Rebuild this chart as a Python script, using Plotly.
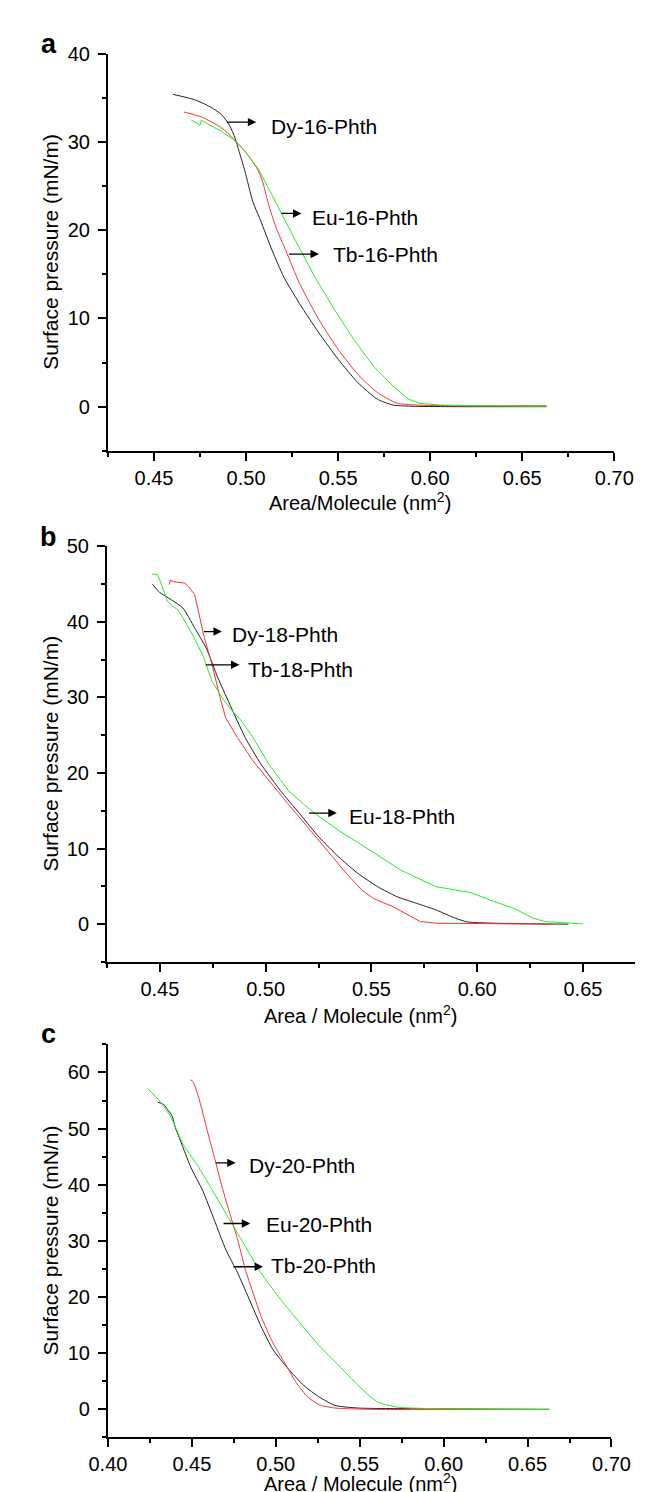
import plotly.graph_objects as go

# ---------------- Panel a (16-Phth) ----------------
a_dy_x = [0.4603, 0.4719, 0.4804, 0.4867, 0.4910, 0.4941, 0.4962, 0.4994, 0.5036, 0.5079, 0.5142, 0.5205,
          0.5290, 0.5396, 0.5501, 0.5607, 0.5713, 0.5797, 0.5920, 0.6135, 0.6632]
a_dy_y = [35.4, 34.8, 34.0, 33.1, 31.9, 30.4, 28.95, 26.7, 23.3, 21.1, 17.7, 14.7,
          11.7, 8.35, 5.36, 2.73, 0.86, 0.19, 0.04, 0.0, 0.0]

a_tb_x = [0.4662, 0.4762, 0.4867, 0.4930, 0.4994, 0.5057, 0.5089, 0.5121, 0.5163, 0.5216, 0.5290, 0.5396,
          0.5501, 0.5607, 0.5713, 0.5818, 0.5920, 0.6135, 0.6632]
a_tb_y = [33.4, 32.8, 31.6, 30.4, 28.95, 27.1, 25.6, 23.0, 20.3, 17.7, 14.0, 9.85,
          6.48, 3.67, 1.61, 0.41, 0.19, 0.11, 0.11]

a_eu_x = [0.4702, 0.4751, 0.4757, 0.4804, 0.4867, 0.4930, 0.4994, 0.5068, 0.5121, 0.5184, 0.5269, 0.5374,
          0.5480, 0.5586, 0.5692, 0.5797, 0.5882, 0.5945, 0.6050, 0.6241, 0.6632]
a_eu_y = [32.5, 31.9, 32.5, 31.9, 31.2, 30.3, 28.95, 26.9, 24.8, 22.2, 18.8, 14.7,
          11.0, 7.6, 4.6, 2.36, 0.86, 0.37, 0.19, 0.11, 0.04]

# ---------------- Panel b (18-Phth) ----------------
b_eu_x = [0.4465, 0.4498, 0.4554, 0.4609, 0.4664, 0.4719, 0.4774, 0.4830, 0.4903, 0.4977, 0.5069, 0.5161,
          0.5253, 0.5345, 0.5437, 0.5529, 0.5621, 0.5713, 0.5805, 0.5897, 0.5952, 0.6081, 0.6431]
b_eu_y = [44.96, 43.9, 42.9, 41.8, 39.2, 36.5, 32.6, 29.1, 24.7, 21.2, 17.7, 14.6,
          11.5, 8.9, 6.7, 4.96, 3.64, 2.76, 1.89, 0.79, 0.31, 0.13, 0.0]

b_dy_x = [0.4544, 0.4550, 0.4563, 0.4618, 0.4636, 0.4664, 0.4682, 0.4710, 0.4747, 0.4784, 0.4811, 0.4866,
          0.4940, 0.5014, 0.5106, 0.5198, 0.5290, 0.5382, 0.5455, 0.5510, 0.5603, 0.5676, 0.5731, 0.5805,
          0.6081, 0.6357]
b_dy_y = [44.9, 45.5, 45.3, 45.1, 44.6, 43.6, 41.4, 37.9, 34.3, 30.0, 27.3, 24.7,
          21.6, 19.0, 15.9, 12.85, 9.8, 6.7, 4.5, 3.4, 2.3, 1.23, 0.35, 0.13,
          0.04, 0.0]

b_tb_x = [0.4462, 0.4489, 0.4508, 0.4535, 0.4590, 0.4646, 0.4701, 0.4747, 0.4793, 0.4830, 0.4885, 0.4940,
          0.5014, 0.5106, 0.5216, 0.5345, 0.5492, 0.5639, 0.5805, 0.5961, 0.5970, 0.6081, 0.6173, 0.6265,
          0.6320, 0.6501]
b_tb_y = [46.3, 46.2, 44.9, 42.7, 41.4, 38.7, 35.7, 32.1, 30.0, 28.6, 26.9, 24.7,
          21.2, 17.7, 15.0, 12.4, 9.8, 7.15, 4.96, 4.3, 4.17, 2.98, 2.1, 0.79,
          0.35, 0.04]

# ---------------- Panel c (20-Phth) ----------------
c_tb_x = [0.4297, 0.4332, 0.4355, 0.4383, 0.4401, 0.4425, 0.4448, 0.4494, 0.4564, 0.4634, 0.4703, 0.4773,
          0.4842, 0.4912, 0.4982, 0.5075, 0.5167, 0.5260, 0.5353, 0.5492, 0.5840, 0.6629]
c_tb_y = [54.7, 54.3, 53.4, 52.2, 50.2, 48.4, 46.6, 43.1, 39.0, 33.7, 28.4, 24.3,
          19.6, 14.8, 10.7, 7.2, 4.24, 2.18, 0.71, 0.24, 0.12, 0.0]

c_eu_x = [0.4234, 0.4309, 0.4378, 0.4448, 0.4541, 0.4634, 0.4726, 0.4819, 0.4912, 0.5028, 0.5144, 0.5260,
          0.5376, 0.5492, 0.5608, 0.5724, 0.5956, 0.6629]
c_eu_y = [57.2, 54.9, 51.9, 47.2, 43.1, 38.4, 33.7, 29.0, 24.3, 19.6, 15.4, 11.3,
          7.8, 4.24, 1.3, 0.41, 0.12, 0.0]

c_dy_x = [0.4490, 0.4506, 0.4541, 0.4587, 0.4634, 0.4680, 0.4726, 0.4773, 0.4819, 0.4865, 0.4912, 0.4982,
          0.5051, 0.5121, 0.5191, 0.5260, 0.5353, 0.5608, 0.6629]
c_dy_y = [58.7, 58.4, 55.5, 50.2, 44.9, 39.6, 34.9, 30.2, 24.9, 20.7, 16.6, 11.9,
          8.4, 4.83, 2.18, 0.82, 0.24, 0.0, 0.0]

# labels: (text, arrow tail x, arrow head x, arrow y, text x, text y)
a_labels = [("Dy-16-Phth", 0.4888, 0.5056, 32.25, 0.5122, 31.7),
            ("Eu-16-Phth", 0.5184, 0.5301, 21.9, 0.5347, 21.46),
            ("Tb-16-Phth", 0.5225, 0.5396, 17.3, 0.5464, 17.3)]
b_labels = [("Dy-18-Phth", 0.4701, 0.4793, 38.7, 0.4830, 38.3),
            ("Tb-18-Phth", 0.4710, 0.4876, 34.3, 0.4907, 33.7),
            ("Eu-18-Phth", 0.5198, 0.5336, 14.7, 0.5386, 14.25)]
c_labels = [("Dy-20-Phth", 0.4634, 0.4761, 43.9, 0.4831, 43.4),
            ("Eu-20-Phth", 0.4680, 0.4848, 33.1, 0.4928, 33.0),
            ("Tb-20-Phth", 0.4738, 0.4924, 25.4, 0.4959, 25.7)]

BLACK = "#222222"
RED = "#ff3030"
GREEN = "#22ee22"
FONT = "Liberation Sans, Arial, Helvetica, sans-serif"

W, H = 646, 1492

fig = go.Figure()

def add(x, y, color, ax, smooth=True):
    line = dict(color=color, width=1)
    if smooth:
        line.update(shape="spline", smoothing=0.6)
    fig.add_trace(go.Scatter(x=x, y=y, mode="lines", line=line,
                             xaxis="x" + ax, yaxis="y" + ax, showlegend=False, hoverinfo="skip"))

add(a_dy_x, a_dy_y, BLACK, "")
add(a_tb_x, a_tb_y, RED, "")
add(a_eu_x, a_eu_y, GREEN, "", smooth=False)
add(b_eu_x, b_eu_y, BLACK, "2")
add(b_dy_x, b_dy_y, RED, "2", smooth=False)
add(b_tb_x, b_tb_y, GREEN, "2", smooth=False)
add(c_tb_x, c_tb_y, BLACK, "3")
add(c_dy_x, c_dy_y, RED, "3")
add(c_eu_x, c_eu_y, GREEN, "3")

def xax(domain, rng):
    return dict(domain=domain, range=rng, showline=True, linecolor="black", linewidth=2,
                ticks="outside", ticklen=8, tickwidth=1.5, tickcolor="black",
                showgrid=False, zeroline=False, tickformat=".2f", tick0=0.40, dtick=0.05,
                minor=dict(ticks="outside", ticklen=4, tickwidth=1.5, tickcolor="black",
                           dtick=0.025, tick0=0.40, showgrid=False),
                tickfont=dict(size=20, color="black", family=FONT), fixedrange=True)

def yax(domain, rng, anchor):
    return dict(domain=domain, range=rng, anchor=anchor, showline=True, linecolor="black", linewidth=2,
                ticks="outside", ticklen=8, tickwidth=1.5, tickcolor="black",
                showgrid=False, zeroline=False, tick0=0, dtick=10,
                minor=dict(ticks="outside", ticklen=4, tickwidth=1.5, tickcolor="black",
                           dtick=5, tick0=0, showgrid=False),
                ticklabelstandoff=4,
                tickfont=dict(size=20, color="black", family=FONT), fixedrange=True)

def py(p):
    return 1 - p / H

fig.update_layout(
    width=W, height=H, margin=dict(l=0, r=0, t=0, b=0),
    paper_bgcolor="white", plot_bgcolor="white",
    font=dict(family=FONT, color="black"),
    xaxis=dict(xax([86 / W, 624 / W], [0.425, 0.70]), anchor="y"),
    yaxis=yax([py(435), py(35)], [-5, 40], "x"),
    xaxis2=dict(xax([85 / W, 1.0], [0.425, 0.6746]), anchor="y2"),
    yaxis2=yax([py(950), py(531)], [-5, 50], "x2"),
    xaxis3=dict(xax([86 / W, 621 / W], [0.40, 0.70]), anchor="y3"),
    yaxis3=yax([py(1429), py(1033)], [-5, 65], "x3"),
)

ann = []
def labels(lst, ax):
    for text, tx, hx, yy, lx, ly in lst:
        ann.append(dict(x=hx, y=yy, ax=tx, ay=yy, xref="x" + ax, yref="y" + ax,
                        axref="x" + ax, ayref="y" + ax, text="", showarrow=True,
                        arrowhead=2, arrowsize=1.3, arrowwidth=1.3, arrowcolor="black",
                        standoff=0, startstandoff=0))
        ann.append(dict(x=lx, y=ly, xref="x" + ax, yref="y" + ax, text=text, showarrow=False,
                        xanchor="left", yanchor="middle", font=dict(size=21, color="black", family=FONT)))

labels(a_labels, "")
labels(b_labels, "2")
labels(c_labels, "3")

# panel letters
for letter, yy in [("a", 25), ("b", 522), ("c", 1023)]:
    ann.append(dict(x=23 / W, y=py(yy), xref="paper", yref="paper", text="<b>%s</b>" % letter,
                    showarrow=False, xanchor="center", yanchor="middle",
                    font=dict(size=27, color="black", family=FONT)))

# y titles
for title, top, bot in [("Surface pressure (mN/m)", 35, 435),
                        ("Surface pressure (mN/m)", 531, 950),
                        ("Surface pressure (mN/n)", 1033, 1429)]:
    ann.append(dict(x=25 / W, y=py((top + bot) / 2), xref="paper", yref="paper", text=title,
                    textangle=-90, showarrow=False, xanchor="center", yanchor="middle",
                    font=dict(size=21, color="black", family=FONT)))

# x titles
for title, yy in [("Area/Molecule (nm<sup>2</sup>)", 486),
                  ("Area / Molecule (nm<sup>2</sup>)", 1003),
                  ("Area / Molecule (nm<sup>2</sup>)", 1474)]:
    ann.append(dict(x=354 / W, y=py(yy), xref="paper", yref="paper", text=title,
                    showarrow=False, xanchor="center", yanchor="middle",
                    font=dict(size=20, color="black", family=FONT)))

fig.update_layout(annotations=ann)

fig.write_html("out.html")
